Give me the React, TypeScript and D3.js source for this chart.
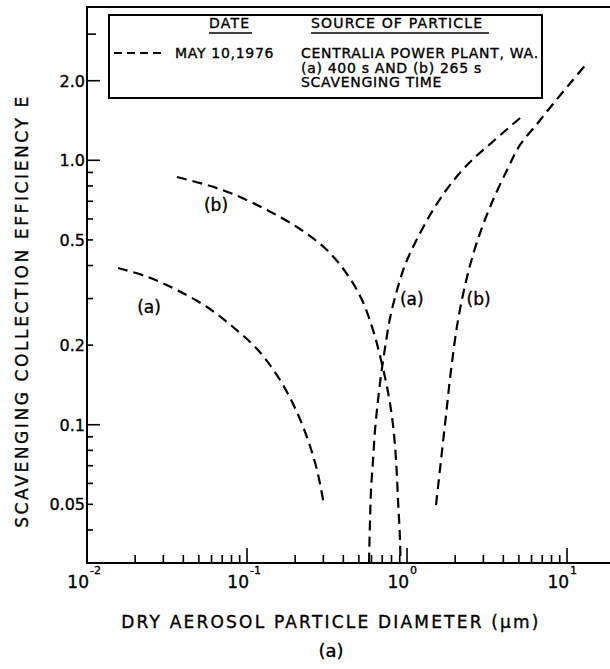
import React from "react";
import * as d3 from "d3";

// ---- data ----
const xDomain = [0.01, 19.1];
const yDomain = [0.03, 3.8];

const aLeftX = [0.01562, 0.02405, 0.03652, 0.05623, 0.08176, 0.1172, 0.1608, 0.2024, 0.2405, 0.2738, 0.3029];
const aLeftY = [0.3915, 0.3619, 0.3232, 0.2787, 0.2342, 0.1916, 0.1476, 0.1136, 0.08752, 0.06741, 0.0497];

const bLeftX = [0.03652, 0.05623, 0.08176, 0.1334, 0.2144, 0.3162, 0.4217, 0.5233, 0.6131, 0.6879, 0.7606, 0.8177, 0.8537, 0.8786, 0.9042, 0.91];
const bLeftY = [0.8646, 0.8064, 0.7454, 0.6486, 0.5497, 0.4577, 0.3715, 0.2962, 0.2282, 0.1757, 0.133, 0.09975, 0.07354, 0.0519, 0.03664, 0.0301];

const aRightX = [0.5788, 0.5872, 0.5957, 0.6131, 0.631, 0.6589, 0.6879, 0.7286, 0.783, 0.866, 0.9716, 1.122, 1.392, 1.778, 2.371, 3.302, 5.085];
const aRightY = [0.0301, 0.0436, 0.05662, 0.07354, 0.0955, 0.124, 0.1542, 0.195, 0.2532, 0.3232, 0.4018, 0.4866, 0.621, 0.7791, 0.9598, 1.152, 1.445];

const bRightX = [1.518, 1.631, 1.753, 1.884, 2.084, 2.371, 2.738, 3.302, 4.217, 5.085, 6.494, 8.175, 10.75, 13.53];
const bRightY = [0.0497, 0.07354, 0.1088, 0.161, 0.2489, 0.3619, 0.4909, 0.666, 0.919, 1.143, 1.372, 1.633, 1.995, 2.354];

const yTicks = [3, 2, 1, 0.9, 0.8, 0.7, 0.6, 0.5, 0.4, 0.3, 0.2, 0.1, 0.09, 0.08, 0.07, 0.06, 0.05, 0.04];
const yLongTicks = [2, 1, 0.1];
const yMidTicks = [3];
const yLabelValues = [2, 1, 0.5, 0.2, 0.1, 0.05];
const yLabelTexts = ["2.0", "1.0", "0.5", "0.2", "0.1", "0.05"];

const xDecades = [0.01, 0.1, 1, 10];
const xExponents = ["-2", "-1", "0", "1"];
const xMinorMult = [2, 3, 4, 5, 6, 7, 8, 9];

const legendHeaders = ["DATE", "SOURCE OF PARTICLE"];
const legendDate = "MAY 10,1976";
const legendSource = ["CENTRALIA POWER PLANT, WA.", "(a) 400 s AND (b) 265 s", "SCAVENGING TIME"];

const curveLabels = [
  { text: "(a)", x: 0.0244, y: 0.278 },
  { text: "(b)", x: 0.064, y: 0.68 },
  { text: "(a)", x: 1.07, y: 0.3 },
  { text: "(b)", x: 2.8, y: 0.3 },
];

const FONT = "'DejaVu Sans', sans-serif";
const TXT = { fill: "#000", stroke: "#000", strokeWidth: 0.35 };

export default function App() {
  const x = d3.scaleLog().domain(xDomain).range([87, 612]);
  const y = d3.scaleLog().domain(yDomain).range([563, 7]);

  const line = d3
    .line<[number, number]>()
    .x((d) => x(d[0]))
    .y((d) => y(d[1]))
    .curve(d3.curveCatmullRom.alpha(0.5));

  const series = [
    d3.zip(aLeftX, aLeftY),
    d3.zip(bLeftX, bLeftY),
    d3.zip(aRightX, aRightY),
    d3.zip(bRightX, bRightY),
  ] as [number, number][][];

  const x0 = x(xDomain[0]);
  const xEnd = 612;
  const yTop = y(yDomain[1]);
  const yBot = y(yDomain[0]);

  const xMinor: number[] = [];
  xDecades.forEach((d) => xMinorMult.forEach((m) => { if (d * m <= xDomain[1]) xMinor.push(d * m); }));

  return (
    <svg width={610} height={669} style={{ position: "absolute", left: 0, top: 0, background: "#fff" }} fontFamily={FONT}>
      <rect x={0} y={0} width={610} height={669} fill="#fff" />
      {/* frame */}
      <g stroke="#000" strokeWidth={2} fill="none">
        <line x1={x0} y1={yTop} x2={x0} y2={yBot} />
        <line x1={x0 - 1} y1={yTop} x2={xEnd} y2={yTop} />
        <line x1={x0 - 1} y1={yBot} x2={xEnd} y2={yBot} />
      </g>
      {/* y ticks */}
      <g stroke="#000" strokeWidth={1.6}>
        {yTicks.map((t, i) => {
          const len = yLongTicks.includes(t) ? 13 : yMidTicks.includes(t) ? 9 : 6;
          return <line key={i} x1={x0} x2={x0 + len} y1={y(t)} y2={y(t)} />;
        })}
      </g>
      <g fontSize={16} textAnchor="end" {...TXT}>
        {yLabelValues.map((v, i) => (
          <text key={i} x={85} y={y(v) + 6}>{yLabelTexts[i]}</text>
        ))}
      </g>
      {/* x ticks */}
      <g stroke="#000" strokeWidth={1.6}>
        {xDecades.map((d, i) => (
          <line key={"M" + i} x1={x(d)} x2={x(d)} y1={yBot} y2={yBot - 15} />
        ))}
        {xMinor.map((d, i) => (
          <line key={"m" + i} x1={x(d)} x2={x(d)} y1={yBot} y2={yBot - 8} />
        ))}
      </g>
      <g {...TXT}>
        {xDecades.map((d, i) => (
          <g key={i}>
            <text x={x(d) + 2} y={588} fontSize={17} textAnchor="end">10</text>
            <text x={x(d) + 3} y={574} fontSize={11} textAnchor="start">{xExponents[i]}</text>
          </g>
        ))}
      </g>
      {/* axis titles */}
      <text x={331} y={628} fontSize={17} letterSpacing={2.2} textAnchor="middle" {...TXT}>
        DRY AEROSOL PARTICLE DIAMETER (μm)
      </text>
      <text x={331} y={657} fontSize={18} textAnchor="middle" {...TXT}>(a)</text>
      <text
        transform={`translate(28, 311) rotate(-90)`}
        fontSize={17}
        letterSpacing={2.6}
        textAnchor="middle"
        {...TXT}
      >
        SCAVENGING COLLECTION EFFICIENCY E
      </text>
      {/* legend */}
      <g>
        <rect x={109} y={15} width={433} height={83} fill="#fff" stroke="#000" strokeWidth={2} />
        <g fontSize={14} {...TXT}>
          <text x={209} y={28} letterSpacing={1.2}>{legendHeaders[0]}</text>
          <text x={311} y={28} letterSpacing={1.2}>{legendHeaders[1]}</text>
          <text x={175} y={58} letterSpacing={0.7}>{legendDate}</text>
          {legendSource.map((s, i) => (
            <text key={i} x={301} y={58 + i * 14.5} letterSpacing={0.7}>{s}</text>
          ))}
        </g>
        <line x1={209} x2={252} y1={33} y2={33} stroke="#000" strokeWidth={1.5} />
        <line x1={311} x2={489} y1={33} y2={33} stroke="#000" strokeWidth={1.5} />
        <line x1={114} x2={163} y1={53} y2={53} stroke="#000" strokeWidth={2} strokeDasharray="8,5" />
      </g>
      {/* curves */}
      <g fill="none" stroke="#000" strokeWidth={2.2} strokeDasharray="10,6">
        {series.map((s, i) => (
          <path key={i} d={line(s) || ""} />
        ))}
      </g>
      <g fontSize={17} textAnchor="middle" {...TXT}>
        {curveLabels.map((l, i) => (
          <text key={i} x={x(l.x)} y={y(l.y) + 6}>{l.text}</text>
        ))}
      </g>
    </svg>
  );
}
